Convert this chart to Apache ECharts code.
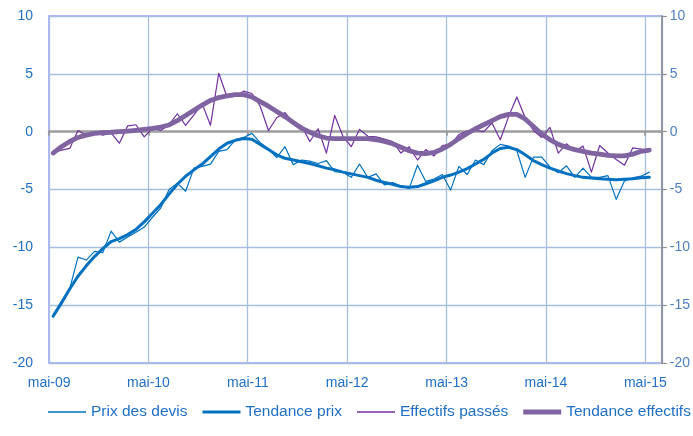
<!DOCTYPE html>
<html>
<head>
<meta charset="utf-8">
<script src="https://cdn.jsdelivr.net/npm/echarts@6/dist/echarts.min.js"></script>
<style>
html,body{margin:0;padding:0;background:#fff;}
#c{width:693px;height:436px;}
</style>
</head>
<body>
<div id="c"></div>
<script>
var categories = [
 'mai-09','juin-09','juil-09','août-09','sept-09','oct-09','nov-09','déc-09','janv-10','févr-10','mars-10','avr-10',
 'mai-10','juin-10','juil-10','août-10','sept-10','oct-10','nov-10','déc-10','janv-11','févr-11','mars-11','avr-11',
 'mai-11','juin-11','juil-11','août-11','sept-11','oct-11','nov-11','déc-11','janv-12','févr-12','mars-12','avr-12',
 'mai-12','juin-12','juil-12','août-12','sept-12','oct-12','nov-12','déc-12','janv-13','févr-13','mars-13','avr-13',
 'mai-13','juin-13','juil-13','août-13','sept-13','oct-13','nov-13','déc-13','janv-14','févr-14','mars-14','avr-14',
 'mai-14','juin-14','juil-14','août-14','sept-14','oct-14','nov-14','déc-14','janv-15','févr-15','mars-15','avr-15',
 'mai-15','juin-15'
];

var prixDevis = [
 -15.95,-14.95,-13.6,-10.85,-11.1,-10.35,-10.45,-8.6,-9.55,-9.1,-8.7,-8.25,
 -7.4,-6.6,-5.0,-4.45,-5.15,-3.15,-3.0,-2.8,-1.7,-1.55,-0.7,-0.5,
 -0.15,-0.95,-1.5,-2.25,-1.3,-2.85,-2.45,-2.55,-2.75,-2.5,-3.45,-3.5,
 -3.95,-2.8,-3.95,-3.65,-4.6,-4.4,-4.7,-4.9,-2.9,-4.3,-4.1,-3.7,
 -5.05,-3.0,-3.7,-2.45,-2.85,-1.65,-1.1,-1.25,-1.65,-3.95,-2.2,-2.2,
 -3.05,-3.55,-2.95,-3.95,-3.15,-3.95,-3.95,-3.8,-5.85,-4.25,-4.0,-3.85,
 -3.5,null
];

var tendancePrix = [
 -15.95,-14.8,-13.6,-12.5,-11.6,-10.8,-10.1,-9.5,-9.25,-8.9,-8.45,-7.8,
 -7.05,-6.3,-5.4,-4.55,-3.85,-3.3,-2.8,-2.15,-1.5,-1.0,-0.75,-0.6,
 -0.65,-1.1,-1.55,-2.0,-2.3,-2.45,-2.6,-2.75,-2.95,-3.15,-3.3,-3.5,
 -3.65,-3.8,-3.95,-4.2,-4.4,-4.55,-4.75,-4.8,-4.75,-4.5,-4.25,-3.95,
 -3.75,-3.5,-3.2,-2.8,-2.4,-1.85,-1.45,-1.35,-1.55,-2.0,-2.5,-2.85,
 -3.15,-3.4,-3.63,-3.8,-3.95,-4.0,-4.08,-4.12,-4.15,-4.12,-4.08,-3.98,
 -3.95,null
];

var effectifsPasses = [
 -1.8,-1.6,-1.45,0.1,-0.3,-0.05,-0.3,-0.1,-1.0,0.5,0.6,-0.45,
 0.3,0.1,0.6,1.55,0.55,1.45,2.4,0.55,5.05,3.0,3.05,3.5,
 3.3,2.2,0.1,1.2,1.65,0.75,0.5,-0.85,0.25,-1.85,1.4,-0.4,
 -1.3,0.2,-0.4,-0.45,-0.65,-0.85,-1.85,-1.3,-2.45,-1.55,-2.1,-1.2,
 -1.1,-0.25,0.05,0.1,0.0,0.75,-0.7,1.3,3.0,1.2,0.1,-0.5,
 0.37,-1.85,-1.05,-1.7,-1.25,-3.5,-1.2,-1.85,-2.4,-2.9,-1.4,-1.5,
 -1.65,null
];

var tendanceEffectifs = [
 -1.85,-1.3,-0.85,-0.5,-0.3,-0.15,-0.08,-0.05,0.0,0.05,0.12,0.2,
 0.28,0.4,0.58,0.95,1.4,1.85,2.3,2.7,2.95,3.1,3.2,3.2,
 3.0,2.6,2.2,1.75,1.3,0.8,0.3,-0.05,-0.35,-0.55,-0.6,-0.6,
 -0.6,-0.6,-0.6,-0.7,-0.85,-1.05,-1.35,-1.65,-1.85,-1.9,-1.8,-1.5,
 -1.1,-0.6,-0.15,0.25,0.6,0.95,1.3,1.5,1.5,1.1,0.45,-0.2,
 -0.7,-1.1,-1.35,-1.55,-1.7,-1.85,-1.95,-2.05,-2.1,-2.1,-1.95,-1.7,
 -1.6,null
];

var seriesNames = ['Prix des devis','Tendance prix','Effectifs passés','Tendance effectifs'];
var yTicks = {min: -20, max: 10, interval: 5};

var font = 'Liberation Sans, Arial, sans-serif';
var chart = echarts.init(document.getElementById('c'), null, {renderer: 'canvas'});

function lineSeries(name, data, color, width, z) {
  return {
    name: name, type: 'line', data: data, xAxisIndex: 0, yAxisIndex: 0,
    symbol: 'none', showSymbol: false, smooth: false, z: z,
    lineStyle: {color: color, width: width, join: 'round', cap: 'round'},
    itemStyle: {color: color}
  };
}

function barIcon(h) { return 'path://M0,0H38V' + h + 'H0Z'; }

chart.setOption({
  animation: false,
  grid: {left: 49, right: 29, top: 16, bottom: 73, show: true,
         borderColor: '#9999FF', borderWidth: 1.5, backgroundColor: 'transparent'},
  legend: {
    data: [
      {name: seriesNames[0], icon: barIcon(1.3)},
      {name: seriesNames[1], icon: barIcon(3.2)},
      {name: seriesNames[2], icon: barIcon(1.3)},
      {name: seriesNames[3], icon: barIcon(4.8)}
    ],
    left: 48, top: 404, width: 680, padding: 0,
    itemWidth: 38, itemHeight: 14, itemGap: 15, symbolKeepAspect: true,
    textStyle: {color: '#1F6FC5', fontSize: 15.5, fontFamily: font}
  },
  xAxis: [
    {type: 'category', data: categories, boundaryGap: true, position: 'bottom',
     axisLine: {show: false, onZero: false}, axisTick: {show: false},
     axisLabel: {interval: 11, color: '#1F6FC5', fontSize: 14, fontFamily: font, margin: 13,
                 padding: [0, 8, 0, 0]},
     splitLine: {show: true, interval: 11, lineStyle: {color: '#A7BEDE', width: 1.3}}},
    {type: 'category', data: categories, boundaryGap: true, position: 'top',
     axisLine: {show: true, onZero: true, onZeroAxisIndex: 0, lineStyle: {color: '#A0A0A0', width: 2.5}},
     axisTick: {show: true, interval: 11, inside: true, length: 4, lineStyle: {color: '#909090', width: 1.5}},
     axisLabel: {show: false}, splitLine: {show: false}}
  ],
  yAxis: [
    {type: 'value', min: yTicks.min, max: yTicks.max, interval: yTicks.interval, position: 'left',
     axisLine: {show: false}, axisTick: {show: false},
     axisLabel: {color: '#1F6FC5', fontSize: 14, fontFamily: font, margin: 16},
     splitLine: {show: true, lineStyle: {color: '#A7BEDE', width: 1.3}}},
    {type: 'value', min: yTicks.min, max: yTicks.max, interval: yTicks.interval, position: 'right',
     axisLine: {show: true, lineStyle: {color: '#8C8C8C', width: 1.5}},
     axisTick: {show: true, length: 5, lineStyle: {color: '#8C8C8C', width: 1.2}},
     axisLabel: {color: '#4F7FBF', fontSize: 14, fontFamily: font, margin: 8},
     splitLine: {show: false}}
  ],
  series: [
    lineSeries(seriesNames[0], prixDevis, '#0070C0', 1.2, 2),
    lineSeries(seriesNames[1], tendancePrix, '#0070C0', 3, 3),
    lineSeries(seriesNames[2], effectifsPasses, '#7030A0', 1.2, 4),
    lineSeries(seriesNames[3], tendanceEffectifs, '#8064A2', 4.8, 5)
  ]
});
</script>
</body>
</html>
